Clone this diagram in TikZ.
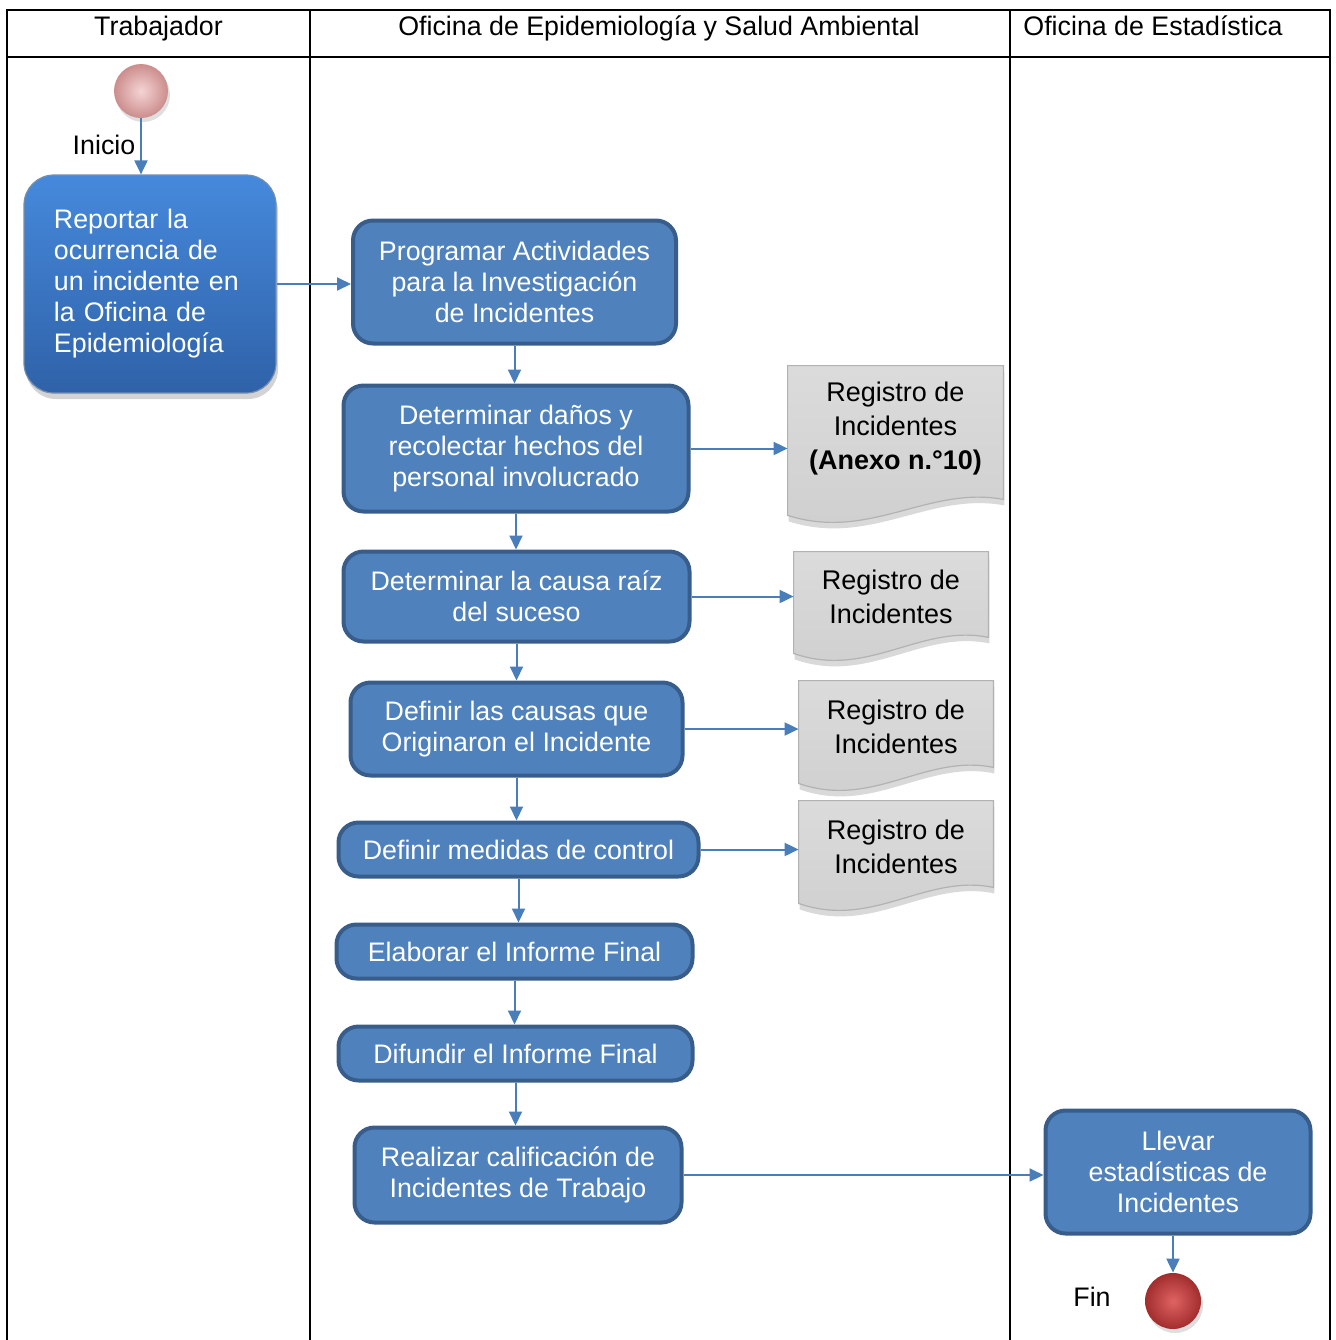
\documentclass[tikz,border=0pt]{standalone}
\usepackage{fontspec}
\setmainfont{Liberation Sans}
\usetikzlibrary{arrows.meta,positioning,shadows,backgrounds,calc}

\definecolor{cajaazul}{HTML}{4F81BD}
\definecolor{bordeazul}{HTML}{385D8A}
\definecolor{flecha}{HTML}{4A7EBB}
\definecolor{azulclaro}{HTML}{4689DC}
\definecolor{azuloscuro}{HTML}{2F62A8}
\definecolor{rosa}{HTML}{E8A0A0}
\definecolor{rojo}{HTML}{D83C3C}

% hoja de papel con el borde inferior ondulado, detras del nodo
\newcommand{\hoja}[2][11]{%
	\begin{pgfonlayer}{background}
		\path[hojapapel] (#2.north west) -- (#2.north east) -- ($(#2.south east)+(0,#1-16)$)
			.. controls ($(#2.south east)!0.35!(#2.south west)+(0,#1-30)$) and ($(#2.south east)!0.62!(#2.south west)+(0,#1+26)$)
			.. ($(#2.south west)+(0,#1)$) -- cycle;
	\end{pgfonlayer}}

\begin{document}
\begin{tikzpicture}[x=0.5pt,y=-0.5pt,font=\fontsize{13.4}{15.5}\selectfont]
		\tikzstyle{tabla}=[line width=1pt,black]
		\tikzstyle{cabecera}=[anchor=base,inner sep=0pt]
		\tikzstyle{etiqueta}=[inner sep=0pt]
		\tikzstyle{paso}=[rectangle,rounded corners=10pt,fill=cajaazul,draw=bordeazul,line width=2pt,text=white,align=center]
		\tikzstyle{reporte}=[rectangle,rounded corners=15pt,top color=azulclaro,bottom color=azuloscuro,draw=bordeazul!70,line width=0.6pt,text=white,align=left,
			drop shadow={shadow xshift=1pt,shadow yshift=-3pt,opacity=0.35}]
		\tikzstyle{registro}=[rectangle,inner sep=0pt,align=center,font=\fontsize{13.5}{17}\selectfont]
		\tikzstyle{hojapapel}=[top color=gray!28,bottom color=gray!38,draw=gray!60,line width=0.6pt,
			drop shadow={shadow xshift=0.5pt,shadow yshift=-3pt,opacity=0.3}]
		\tikzstyle{inicio}=[circle,minimum size=27pt,inner sep=0pt,shading=radial,inner color=rosa!45!white,outer color=rosa!88!black,
			drop shadow={shadow xshift=1pt,shadow yshift=-2pt,opacity=0.25,circle}]
		\tikzstyle{fin}=[circle,minimum size=28pt,inner sep=0pt,shading=radial,inner color=rojo!80!white,outer color=rojo!75!black,
			drop shadow={shadow xshift=1pt,shadow yshift=-2pt,opacity=0.25,circle}]
		\tikzstyle{flujo}=[draw=flecha,line width=1pt,-{Triangle[length=7pt,width=6.5pt]}]
		
		\useasboundingbox (0,0) rectangle (1336,1340);
		
		% carriles
		\draw[tabla] (7,1340) -- (7,10) -- (1330,10) -- (1330,1340);
		\draw[tabla] (7,57) -- (1330,57);
		\draw[tabla] (310,10) -- (310,1340);
		\draw[tabla] (1010,10) -- (1010,1340);
		
		\node[cabecera] (trabajador) at (158.5,35) {Trabajador};
		\node[cabecera] (epidemiologia) at (659,35) {Oficina de Epidemiología y Salud Ambiental};
		\node[cabecera,anchor=base west] (estadistica) at (1023,35) {Oficina de Estadística};
		
		% trabajador
		\node[inicio] (inicio) at (141,91) {};
		\node[etiqueta] (lblinicio) at (104,145) {Inicio};
		\node[reporte,minimum width=126pt,minimum height=109pt,text width=96pt] (reportar) at (150,284)
			{Reportar la\\ocurrencia de\\un incidente en\\la Oficina de\\Epidemiología};
		
		% oficina de epidemiologia
		\node[paso,minimum width=161.5pt,minimum height=61.5pt] (programar) at (514.5,282)
			{Programar Actividades\\para la Investigación\\de Incidentes};
		\node[paso,minimum width=172.5pt,minimum height=63pt] (danos) at (516,448.5)
			{Determinar daños y\\recolectar hechos del\\personal involucrado};
		\node[paso,minimum width=173pt,minimum height=45pt] (causa) at (516.5,596.5)
			{Determinar la causa raíz\\del suceso};
		\node[paso,minimum width=166pt,minimum height=46.5pt] (causas) at (516.5,729)
			{Definir las causas que\\Originaron el Incidente};
		\node[paso,minimum width=180pt,minimum height=27pt] (medidas) at (518.5,849.5)
			{Definir medidas de control};
		\node[paso,minimum width=178pt,minimum height=27pt] (elaborar) at (514.5,951.5)
			{Elaborar el Informe Final};
		\node[paso,minimum width=177pt,minimum height=27pt] (difundir) at (515.5,1053.5)
			{Difundir el Informe Final};
		\node[paso,minimum width=163.5pt,minimum height=47.5pt] (realizar) at (518,1175)
			{Realizar calificación de\\Incidentes de Trabajo};
		
		\node[registro,minimum width=107.5pt,minimum height=63pt] (reg1) at (895.5,429)
			{Registro de\\Incidentes\\\textbf{(Anexo n.°10)}};
		\node[registro,minimum width=97pt,minimum height=45pt] (reg2) at (891,597) {Registro de\\Incidentes};
		\node[registro,minimum width=97pt,minimum height=45.5pt] (reg3) at (896,726.5) {Registro de\\Incidentes};
		\node[registro,minimum width=97pt,minimum height=45.5pt] (reg4) at (896,846.5) {Registro de\\Incidentes};
		\hoja[23]{reg1}
		\hoja{reg2}
		\hoja{reg3}
		\hoja{reg4}
		
		% oficina de estadistica
		\node[paso,minimum width=132.5pt,minimum height=61.5pt] (llevar) at (1178,1172)
			{Llevar\\estadísticas de\\Incidentes};
		\node[fin] (fin) at (1173,1301) {};
		\node[etiqueta] (lblfin) at (1092,1297) {Fin};
		
		% flujo
		\draw[flujo] (inicio) -- (inicio |- reportar.north);
		\draw[flujo] (reportar.east) -- (reportar.east -| programar.west);
		\foreach \a/\b in {programar/danos,danos/causa,causa/causas,causas/medidas,medidas/elaborar,elaborar/difundir,difundir/realizar}
			\draw[flujo] (\a.south) -- (\a.south |- \b.north);
		\foreach \a/\b in {danos/reg1,causa/reg2,causas/reg3,medidas/reg4}
			\draw[flujo] (\a.east) -- (\a.east -| \b.west);
		\draw[flujo] (realizar.east) -- (realizar.east -| llevar.west);
		\draw[flujo] (llevar.south -| fin) -- (fin.north);
\end{tikzpicture}
\end{document}
